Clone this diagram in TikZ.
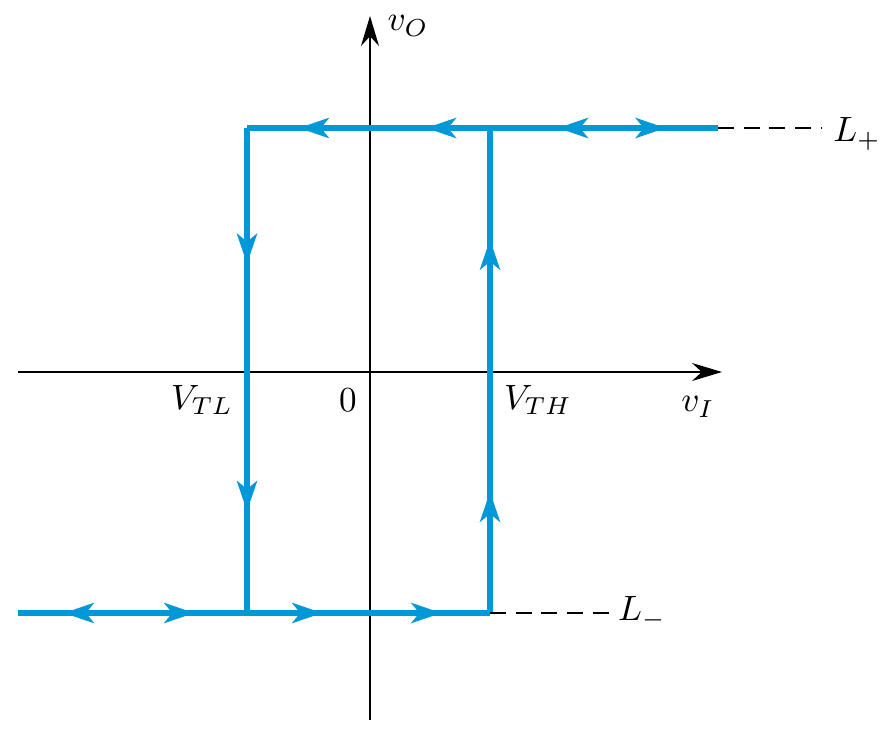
\documentclass[tikz,border=0pt]{standalone}
\usepackage{amsmath}
\usepackage{xcolor}
\usetikzlibrary{arrows.meta,decorations.markings}
\definecolor{loopblue}{RGB}{0,152,214}
\tikzset{
  loop/.style={line width=1.5pt,draw=loopblue},
  tipat/.style={postaction={decorate,decoration={markings,
      mark=at position #1 with {\arrow{Stealth[length=0.3cm,width=0.2cm,inset=0.08cm]}}}}},
  tipback/.style={postaction={decorate,decoration={markings,
      mark=at position #1 with {\arrowreversed{Stealth[length=0.3cm,width=0.2cm,inset=0.08cm]}}}}}
}
\begin{document}
\begin{tikzpicture}[x=0.01cm,y=-0.01cm]
            \useasboundingbox (0,0) rectangle (888,730);
            %%% COORDINATES %%%
            \coordinate (TL) at (247,128);
            \coordinate (TR) at (490,128);
            \coordinate (TE) at (718,128);
            \coordinate (BL) at (247,613);
            \coordinate (BR) at (490,613);
            \coordinate (BE) at (18,613);

            %%% AXES %%%
            \draw[-{Stealth[length=0.3cm,width=0.18cm]}] (18,372)--(722,372);
            \draw[-{Stealth[length=0.3cm,width=0.18cm]}] (370,720)--(370,16);

            %%% LOOP %%%
            \draw[loop,tipback=0.11,tipback=0.38,tipback=0.66] (TL)--(TE);
            \draw[loop,tipat=0.95] (TR)--(675,128);
            \draw[loop,tipat=0.28,tipat=0.79] (TL)--(BL);
            \draw[loop,tipat=0.25,tipat=0.77] (BR)--(TR);
            \draw[loop,tipback=0.2,tipat=0.77] (BE)--(BL);
            \draw[loop,tipat=0.31,tipat=0.8] (BL)--(BR);

            %%% LEVELS %%%
            \draw[dash pattern=on 4.5pt off 2.8pt] (TE)--(822,128);
            \draw[dash pattern=on 4.5pt off 2.8pt] (BR)--(612,613);
            \node at (857,134){$L_+$};
            \node at (642,613){$L_-$};

            %%% LABELS %%%
            \node at (408,26){$v_O$};
            \node at (202,400){$V_{TL}$};
            \node at (348,400){$0$};
            \node at (538,400){$V_{TH}$};
            \node at (698,407){$v_I$};
\end{tikzpicture}
\end{document}
